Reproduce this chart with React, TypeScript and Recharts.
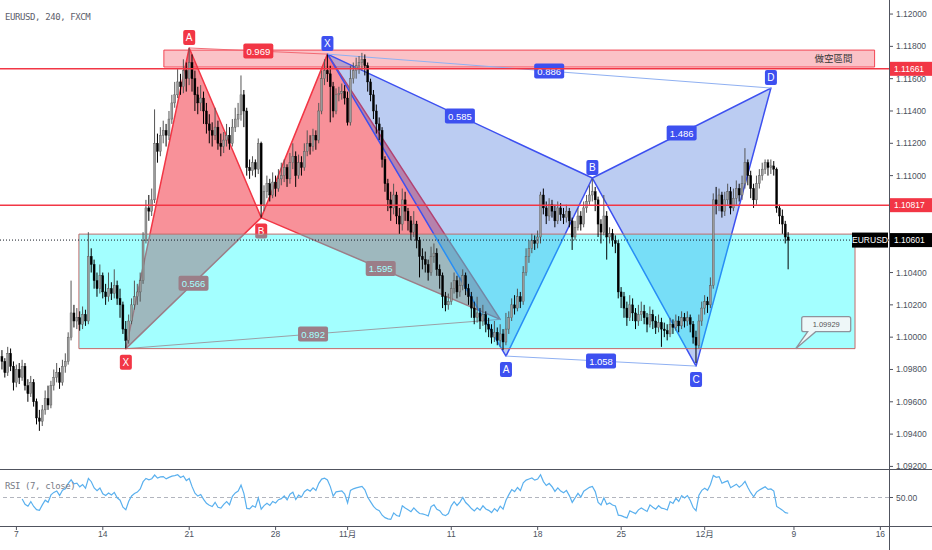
import React from 'react';
import {
  ComposedChart,
  Bar,
  Line,
  Scatter,
  XAxis,
  YAxis,
  ReferenceLine,
  ReferenceArea,
  ReferenceDot,
} from 'recharts';

// EURUSD 4h candles, in pips above 1.10000
const firstOpenPips = -12;
const closePips = [
  -15, -22, -10, -18, -28, -20, -25, -18, -30, -35,
  -28, -40, -50, -52, -45, -38, -42, -30, -25, -22,
  -28, -18, -15, 0, 15, 10, 12, 8, 14, 10,
  50, 45, 35, 30, 38, 28, 25, 30, 27, 32,
  24, 20, 5, -2, 10, 20, 25, 28, 35, 60,
  80, 78, 85, 120, 115, 125, 128, 125, 135, 145,
  150, 158, 155, 165, 160, 170, 160, 150, 145, 148,
  140, 132, 128, 125, 130, 120, 118, 122, 125, 120,
  130, 135, 138, 150, 140, 105, 103, 108, 104, 120,
  82, 90, 95, 88, 96, 92, 98, 100, 105, 98,
  108, 112, 100, 108, 105, 115, 120, 118, 125, 122,
  140, 160, 165, 163, 155, 140, 150, 151, 152, 148,
  133, 160, 165, 168, 170, 172, 168, 158, 150, 140,
  132, 128, 110, 95, 85, 80, 88, 75, 70, 85,
  78, 72, 65, 70, 60, 50, 48, 45, 40, 50,
  52, 42, 38, 25, 20, 22, 30, 35, 28, 32,
  38, 30, 25, 18, 12, 15, 10, 14, 8, 5,
  0, 3, -2, 2, -3, 5, 12, 20, 18, 25,
  22, 40, 50, 55, 60, 58, 62, 88, 80, 75,
  82, 78, 72, 80, 76, 74, 78, 72, 62, 68,
  75, 70, 80, 84, 88, 90, 85, 70, 65, 75,
  62, 64, 60, 58, 28, 25, 18, 12, 20, 15,
  10, 14, 16, 12, 8, 14, 10, 6, 9, 5,
  4, 2, 8, 6, 10, 7, 12, 10, 12, 8,
  0, -5, 10, 18, 22, 20, 32, 85, 82, 88,
  78, 85, 90, 80, 86, 92, 88, 95, 108, 100,
  92, 85, 95, 100, 104, 108, 105, 106, 104, 80,
  75, 70, 62, 60,
];
const highPips = [
  -8, -13, -6, -7, -15, -17, -16, -14, -16, -26,
  -24, -26, -38, -45, -42, -33, -30, -27, -20, -16,
  -19, -14, -10, 3, 35, 20, 18, 16, 19, 17,
  65, 55, 48, 40, 45, 40, 33, 40, 34, 42,
  35, 30, 22, 10, 14, 24, 35, 33, 40, 65,
  85, 88, 92, 141, 126, 130, 134, 132, 140, 150,
  158, 166, 163, 172, 170, 179, 175, 165, 155, 156,
  152, 145, 138, 133, 142, 134, 126, 127, 132, 130,
  135, 142, 145, 162, 153, 142, 110, 112, 110, 123,
  121, 94, 100, 98, 102, 100, 104, 108, 110, 107,
  114, 120, 115, 113, 112, 120, 128, 125, 129, 128,
  145, 165, 172, 175, 168, 158, 154, 155, 157, 156,
  152, 168, 170, 173, 174, 176, 175, 170, 160, 153,
  144, 136, 130, 112, 98, 90, 95, 90, 80, 92,
  90, 80, 75, 78, 72, 62, 55, 53, 48, 56,
  58, 55, 45, 40, 28, 27, 34, 40, 38, 37,
  42, 40, 33, 28, 22, 25, 18, 20, 16, 12,
  8, 10, 6, 8, 5, 15, 16, 24, 26, 30,
  28, 44, 55, 60, 64, 63, 66, 90, 92, 84,
  86, 85, 82, 84, 83, 80, 82, 80, 74, 72,
  80, 78, 84, 88, 94, 98, 93, 87, 73, 88,
  78, 68, 67, 63, 60, 31, 28, 22, 26, 24,
  18, 20, 22, 20, 15, 19, 17, 13, 14, 12,
  9, 8, 12, 11, 14, 13, 16, 15, 16, 14,
  10, 4, 14, 22, 26, 25, 37, 89, 93, 92,
  90, 90, 95, 93, 92, 97, 95, 100, 117, 110,
  103, 95, 100, 104, 108, 110, 110, 110, 109, 105,
  82, 79, 72, 65,
];
const lowPips = [
  -20, -25, -24, -21, -33, -31, -29, -27, -33, -40,
  -37, -43, -54, -58, -55, -48, -45, -44, -33, -28,
  -32, -30, -22, -17, -2, 6, 5, 4, 5, 7,
  8, 40, 30, 25, 27, 24, 20, 22, 23, 24,
  20, 12, 2, -7, -4, 8, 17, 20, 22, 33,
  58, 72, 75, 83, 108, 112, 120, 118, 122, 132,
  142, 148, 150, 151, 152, 156, 152, 140, 138, 140,
  132, 126, 120, 118, 122, 116, 112, 114, 118, 116,
  118, 127, 130, 134, 130, 100, 98, 100, 99, 101,
  74, 78, 86, 84, 86, 87, 90, 94, 96, 93,
  95, 104, 93, 98, 100, 103, 112, 113, 115, 116,
  120, 138, 156, 158, 133, 136, 138, 146, 147, 144,
  131, 131, 157, 160, 163, 165, 162, 152, 146, 135,
  126, 122, 105, 90, 78, 72, 76, 70, 64, 66,
  72, 66, 60, 62, 55, 37, 42, 40, 35, 38,
  46, 38, 30, 18, 16, 17, 20, 27, 24, 25,
  29, 26, 20, 12, 8, 9, 5, 7, 3, 0,
  -4, -3, -5, -6, -8, -5, 2, 10, 14, 16,
  18, 20, 38, 46, 52, 54, 55, 58, 76, 70,
  72, 74, 68, 70, 72, 70, 71, 68, 54, 60,
  66, 66, 68, 77, 82, 84, 78, 62, 58, 63,
  48, 58, 56, 52, 24, 18, 12, 7, 10, 10,
  5, 7, 10, 8, 3, 6, 5, 2, 3, -6,
  0, -2, 0, 2, 4, 3, 5, 6, 7, 3,
  -4, -16, -7, 7, 14, 15, 18, 30, 76, 78,
  74, 75, 82, 76, 78, 82, 84, 85, 92, 94,
  86, 80, 82, 92, 97, 101, 100, 101, 100, 77,
  70, 64, 58, 42,
];

const priceTicks = [
  1.092, 1.094, 1.096, 1.098, 1.1, 1.102, 1.104, 1.106,
  1.108, 1.11, 1.112, 1.114, 1.116, 1.118, 1.12,
];
const dateTicks = [5, 35, 65, 95, 120, 156, 186, 215, 244, 275, 305];
const dateLabels = ['7', '14', '21', '28', '11月', '11', '18', '25', '12月', '9', '16'];

// harmonic patterns: candle index and price of each point
const redPattern = [
  { name: 'X', i: 43, price: 1.09929 },
  { name: 'A', i: 65, price: 1.1179 },
  { name: 'B', i: 90, price: 1.1074 },
  { name: 'C', i: 113, price: 1.11752 },
  { name: 'D', i: 173, price: 1.1011 },
];
const redTagged = ['X', 'A', 'B'];
const redRatios = ['0.566', '1.595', '0.892', '0.969']; // XB, BD, XD, AC

const bluePattern = [
  { name: 'X', i: 113, price: 1.11752 },
  { name: 'A', i: 175, price: 1.09883 },
  { name: 'B', i: 205, price: 1.10985 },
  { name: 'C', i: 241, price: 1.09821 },
  { name: 'D', i: 267, price: 1.11542 },
];
const blueTagged = ['X', 'A', 'B', 'C', 'D'];
const blueRatios = ['0.585', '1.486', '0.886', '1.058'];

const shortZone = { x1: 56.2, x2: 303, y1: 1.11672, y2: 1.11777, text: '做空區間' };
const supportBox = { x1: 26.7, x2: 296.2, y1: 1.09929, y2: 1.10638 };
const redLevels = [1.11661, 1.10817];
const lastPrice = 1.10601;
const callout = { i: 275.6, price: 1.09929 };

const RED = '#f23645';
const BLUE = '#3d50f0';
const AXIS = '#4c525e';
const FONT = '"Liberation Sans", "Noto Sans CJK TC", sans-serif';
const X_DOMAIN = [-0.7, 308];
const RSI_LEN = 7;

const pip = (v: number) => 1.1 + v / 10000;

// RSI(7) of the closes (Wilder smoothing), first value after 7 changes
const rsiValues: (number | null)[] = [null];
{
  let ag = 0;
  let al = 0;
  for (let k = 1; k < closePips.length; k++) {
    const ch = closePips[k] - closePips[k - 1];
    const g = Math.max(ch, 0);
    const l = Math.max(-ch, 0);
    const m = Math.min(k, RSI_LEN);
    ag = (ag * (m - 1) + g) / m;
    al = (al * (m - 1) + l) / m;
    rsiValues.push(k < RSI_LEN ? null : al === 0 ? 100 : 100 - 100 / (1 + ag / al));
  }
}

const candles = closePips.map((c, i) => ({
  i,
  open: pip(i ? closePips[i - 1] : firstOpenPips),
  close: pip(c),
  high: pip(highPips[i]),
  low: pip(lowPips[i]),
  rsi: rsiValues[i],
}));

// price-scale labels that sit under a coloured axis tag are hidden, as on the chart
const taggedPrices = [...redLevels, lastPrice];
const PriceTick = (props: any) => {
  const { x, y, payload } = props;
  const v = payload?.value;
  if (v == null || taggedPrices.some((t) => Math.abs(t - v) < 0.0004)) return <g />;
  return (
    <text x={x} y={y} dy="0.355em" textAnchor="start" fontSize={8.5} fill={AXIS} fontFamily={FONT}>
      {Number(v).toFixed(5)}
    </text>
  );
};

const Candle = (props: any) => {
  const { x, y, width, height, payload } = props;
  if (x == null || y == null || !payload) return null;
  const top = Math.min(y, y + height);
  const bottom = Math.max(y, y + height);
  const hi = Math.max(payload.high, payload.open, payload.close);
  const lo = Math.min(payload.low, payload.open, payload.close);
  const span = hi - lo || 1e-9;
  const yOf = (v: number) => top + ((hi - v) / span) * (bottom - top);
  const cx = x + width / 2;
  const up = payload.close >= payload.open;
  const bTop = yOf(Math.max(payload.open, payload.close));
  const bBot = yOf(Math.min(payload.open, payload.close));
  return (
    <g>
      <line x1={cx} x2={cx} y1={top} y2={bottom} stroke={up ? '#555' : '#000'} strokeWidth={1} />
      <rect
        x={cx - 1}
        y={bTop}
        width={2}
        height={Math.max(bBot - bTop, 0.8)}
        fill={up ? '#9a9a9a' : '#000'}
        stroke={up ? '#555' : '#000'}
        strokeWidth={0.4}
      />
    </g>
  );
};

const NoDot = () => <g />;

const polygonLine = (fill: string, opacity: number, stroke: string, width: number) => (p: any) => (
  <polygon
    points={(p.points || []).map((q: any) => `${q.x},${q.y}`).join(' ')}
    fill={fill}
    fillOpacity={opacity}
    stroke={stroke}
    strokeWidth={width}
    strokeLinejoin="round"
  />
);

const segmentLine = (stroke: string, width: number) => (p: any) => (
  <polyline
    points={(p.points || []).map((q: any) => `${q.x},${q.y}`).join(' ')}
    fill="none"
    stroke={stroke}
    strokeWidth={width}
  />
);

const pointTag = (color: string) => (p: any) => {
  const { cx, cy, payload } = p;
  if (cx == null || !payload) return <g />;
  const w = 12;
  const h = 15;
  const y0 = payload.above ? cy - 3 - h : cy + 6;
  return (
    <g>
      <rect x={cx - w / 2} y={y0} width={w} height={h} rx={2} fill={color} />
      <text x={cx} y={y0 + 11} textAnchor="middle" fontSize={10} fill="#fff" fontFamily={FONT}>
        {payload.name}
      </text>
    </g>
  );
};

const ratioTag = (color: string) => (p: any) => {
  const { cx, cy, payload } = p;
  if (cx == null || !payload) return <g />;
  return (
    <g>
      <rect x={cx - 15} y={cy - 7.5} width={30} height={15} rx={2} fill={color} />
      <text x={cx} y={cy + 3.5} textAnchor="middle" fontSize={9.5} fill="#fff" fontFamily={FONT}>
        {payload.text}
      </text>
    </g>
  );
};

const edgePairs = [
  [0, 2],
  [2, 4],
  [0, 4],
  [1, 3],
];

function patternLayers(
  pts: typeof redPattern,
  tagged: string[],
  ratios: string[],
  color: string,
  fill: string,
  fillOpacity: number,
  thin: string,
  key: string,
  z: number,
) {
  const [X, A, B, C, D] = pts;
  const tags = pts
    .map((pt, k) => {
      const prev = pts[k - 1] || pts[k + 1];
      return { ...pt, above: pt.price > prev.price };
    })
    .filter((pt) => tagged.includes(pt.name));
  const mids = edgePairs.map(([a, b], k) => ({
    i: (pts[a].i + pts[b].i) / 2,
    price: (pts[a].price + pts[b].price) / 2,
    text: ratios[k],
  }));
  return [
    <Scatter key={key + 'xab'} data={[X, A, B]} dataKey="price" shape={NoDot} zIndex={z}
      line={polygonLine(fill, fillOpacity, color, 1.5)} isAnimationActive={false} />,
    <Scatter key={key + 'bcd'} data={[B, C, D]} dataKey="price" shape={NoDot} zIndex={z}
      line={polygonLine(fill, fillOpacity, color, 1.5)} isAnimationActive={false} />,
    <Scatter key={key + 'ac'} data={[A, C]} dataKey="price" shape={NoDot} zIndex={z}
      line={segmentLine(thin, 1)} isAnimationActive={false} />,
    <Scatter key={key + 'xd'} data={[X, D]} dataKey="price" shape={NoDot} zIndex={z}
      line={segmentLine(thin, 1)} isAnimationActive={false} />,
    <Scatter key={key + 'ratio'} data={mids} dataKey="price" shape={ratioTag(color)} zIndex={z + 1}
      isAnimationActive={false} />,
    <Scatter key={key + 'tag'} data={tags} dataKey="price" shape={pointTag(color)} zIndex={z + 2}
      isAnimationActive={false} />,
  ];
}

const axisTag = (text: string, bg: string, name?: string) => (p: any) => {
  const vb = p.viewBox || {};
  const ax = (vb.x || 0) + (vb.width || 0);
  const y = vb.y || 0;
  return (
    <g>
      {name && (
        <g>
          <rect x={ax - 37} y={y - 7.5} width={36} height={15} fill={bg} />
          <text x={ax - 19} y={y + 3} textAnchor="middle" fontSize={8.5} fill="#fff" fontFamily={FONT}>
            {name}
          </text>
        </g>
      )}
      <rect x={ax} y={y - 7} width={43} height={14} fill={bg} />
      <text x={ax + 5} y={y + 3} fontSize={8.5} fill="#fff" fontFamily={FONT}>
        {text}
      </text>
    </g>
  );
};

const Callout = (p: any) => {
  const { cx, cy } = p;
  if (cx == null) return <g />;
  const x0 = cx + 6;
  const x1 = cx + 55;
  const y0 = cy - 32;
  const y1 = cy - 17;
  const d = `M${x0 + 2},${y0} H${x1 - 2} Q${x1},${y0} ${x1},${y0 + 2} V${y1 - 2} Q${x1},${y1} ${x1 - 2},${y1}
    H${cx + 20} L${cx},${cy} L${cx + 12},${y1} H${x0 + 2} Q${x0},${y1} ${x0},${y1 - 2} V${y0 + 2} Q${x0},${y0} ${x0 + 2},${y0} Z`;
  return (
    <g>
      <path d={d} fill="#eef7f8" stroke="#8f939c" strokeWidth={1.3} />
      <text x={(x0 + x1) / 2} y={y0 + 10.5} textAnchor="middle" fontSize={7.5} fill="#555" fontFamily={FONT}>
        {callout.price.toFixed(5)}
      </text>
    </g>
  );
};

export default function App() {
  return (
    <div style={{ position: 'relative', width: 932, height: 550, background: '#fff', fontFamily: FONT, overflow: 'hidden' }}>
      <style>{'body{margin:0}'}</style>

      <div style={{ position: 'absolute', left: 0, top: 0 }}>
        <ComposedChart width={932} height={476} data={candles} margin={{ top: 0, right: 0, bottom: 7, left: 0 }}>
          <XAxis dataKey="i" type="number" domain={X_DOMAIN} allowDataOverflow hide />
          <YAxis
            orientation="right"
            width={43}
            domain={[1.09184, 1.12087]}
            allowDataOverflow
            ticks={priceTicks}
            interval={0}
            tick={PriceTick}
            tickSize={4}
            tickMargin={3}
            axisLine={false}
            tickLine={{ stroke: '#50535e' }}
          />

          <ReferenceArea
            x1={shortZone.x1}
            x2={shortZone.x2}
            y1={shortZone.y1}
            y2={shortZone.y2}
            fill={RED}
            fillOpacity={0.3}
            stroke={RED}
            strokeWidth={1}
            strokeOpacity={0.9}
            zIndex={10}
            label={{ value: shortZone.text, position: 'insideRight', offset: 22, fontSize: 9.5, fill: '#3a3a3a', fontFamily: FONT }}
          />

          {patternLayers(redPattern, redTagged, redRatios, RED, RED, 0.55, '#f26a74', 'r', 20)}
          {patternLayers(bluePattern, blueTagged, blueRatios, BLUE, '#2a5fd6', 0.32, '#8fb0f2', 'b', 30)}

          <ReferenceArea
            x1={supportBox.x1}
            x2={supportBox.x2}
            y1={supportBox.y1}
            y2={supportBox.y2}
            fill="#00ffff"
            fillOpacity={0.36}
            stroke="#c46a6a"
            strokeWidth={1}
            zIndex={40}
          />

          <Bar dataKey={(d: any) => [d.low, d.high]} barSize={2} shape={Candle} isAnimationActive={false} zIndex={50} />

          <ReferenceDot x={callout.i} y={callout.price} r={0} shape={Callout} ifOverflow="visible" zIndex={70} />

          {redLevels.map((lv) => (
            <ReferenceLine key={lv} y={lv} stroke={RED} strokeWidth={1.6} zIndex={3000}
              label={axisTag(lv.toFixed(5), RED)} />
          ))}
          <ReferenceLine y={lastPrice} stroke="#131722" strokeDasharray="1 2" strokeWidth={1} zIndex={3000}
            label={axisTag(lastPrice.toFixed(5), '#000', 'EURUSD')} />
        </ComposedChart>
      </div>

      <div style={{ position: 'absolute', left: 0, top: 469 }}>
        <ComposedChart width={932} height={81} data={candles} margin={{ top: 0, right: 0, bottom: 0, left: 0 }}>
          <XAxis
            dataKey="i"
            type="number"
            domain={X_DOMAIN}
            allowDataOverflow
            ticks={dateTicks}
            interval={0}
            tickFormatter={(v: number) => dateLabels[dateTicks.indexOf(v)] ?? ''}
            height={24}
            axisLine={false}
            tickLine={{ stroke: '#50535e' }}
            tickSize={4}
            tickMargin={1}
            tick={{ fontSize: 8.5, fill: AXIS, fontFamily: FONT }}
          />
          <YAxis
            orientation="right"
            width={43}
            domain={[0, 100]}
            ticks={[50]}
            interval={0}
            tickFormatter={(v: number) => v.toFixed(2)}
            tick={{ fontSize: 8.5, fill: AXIS, fontFamily: FONT }}
            tickSize={4}
            tickMargin={3}
            axisLine={false}
            tickLine={{ stroke: '#50535e' }}
          />
          <ReferenceLine y={50} stroke="#b2b5be" strokeDasharray="4 3" strokeWidth={1} />
          <Line dataKey="rsi" type="linear" stroke="#5ab0ee" strokeWidth={1.2} dot={false} isAnimationActive={false} />
        </ComposedChart>
      </div>

      <div style={{ position: 'absolute', left: 0, top: 469, width: 932, height: 1, background: '#50535e' }} />
      <div style={{ position: 'absolute', left: 0, top: 526, width: 932, height: 1, background: '#50535e' }} />
      <div style={{ position: 'absolute', left: 889, top: 0, width: 1, height: 550, background: '#50535e' }} />

      <svg width={932} height={550} style={{ position: 'absolute', left: 0, top: 0, pointerEvents: 'none' }}>
        <text x={5} y={20} fontSize={9} letterSpacing={-0.4} fill="#5d606b" fontFamily='"DejaVu Sans Mono", monospace'>
          EURUSD, 240, FXCM
        </text>
        <text x={5} y={489} fontSize={9} letterSpacing={-0.4} fill="#787b86" fontFamily='"DejaVu Sans Mono", monospace'>
          RSI (7, close)
        </text>
      </svg>
    </div>
  );
}
